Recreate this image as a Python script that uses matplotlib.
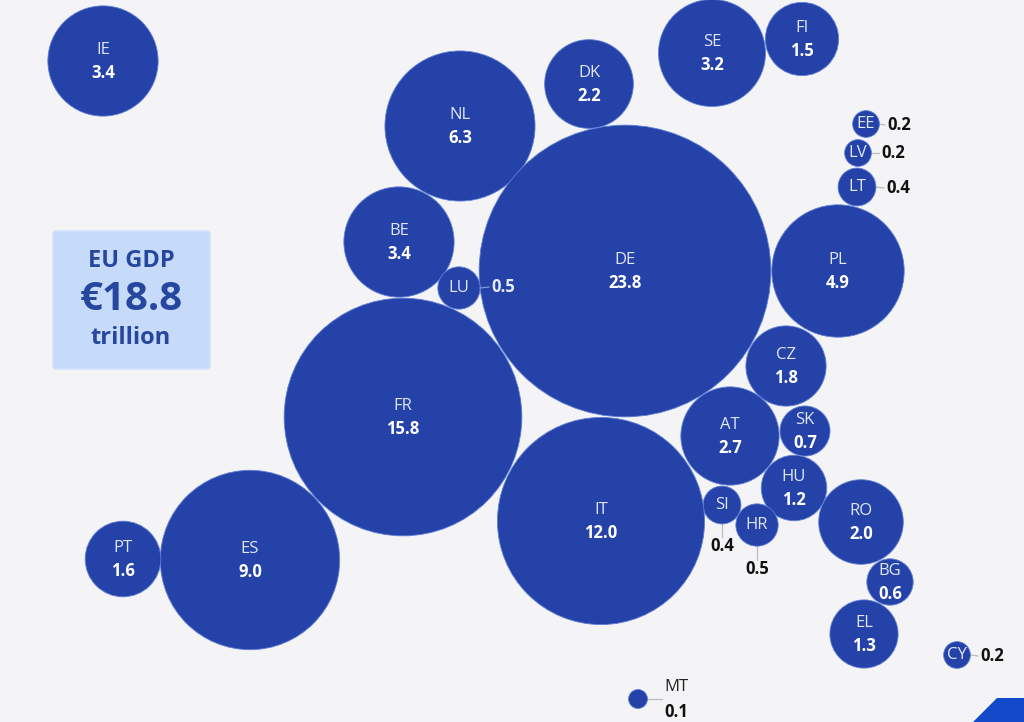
import numpy as np
import matplotlib
matplotlib.use("Agg")
import matplotlib.pyplot as plt
from matplotlib.patches import Circle, FancyBboxPatch, Polygon

codes = ["IE","NL","DK","SE","FI","EE","LV","LT","PL","DE","BE","LU","FR","CZ","AT","SK","HU","SI","HR","RO","BG","EL","CY","IT","ES","PT","MT"]
values = [3.4,6.3,2.2,3.2,1.5,0.2,0.2,0.4,4.9,23.8,3.4,0.5,15.8,1.8,2.7,0.7,1.2,0.4,0.5,2.0,0.6,1.3,0.2,12.0,9.0,1.6,0.1]
cx = [103,460,589,712,802,866,858,857,838,625,399,459,403,786,730,805,794,722,757,861,890,864,957,601,250,123,638]
cy = [61,126,84,53,39,124,153,187,271,271,242,288,417,366,436,431,488,505,525,522,582,634,655,521,560,559,699]

# small bubbles: label sits outside, joined by a short leader
outside_right = {"EE":(887,125),"LV":(881,153),"LT":(886,188),"LU":(491,287),"CY":(980,656)}
outside_below = {"SI":(722,546),"HR":(757,569)}
inside_small = {"MT"}

BG = "#f4f4f6"
BLUE = "#2542a8"
EDGE = "#5f7fd6"
BOX = "#c6dafa"
BOXTXT = "#27479f"
LIGHT = "#dfe6f7"
FONT = "Open Sans"
SCALE = 29.9
FS = 12

fig = plt.figure(figsize=(10.24, 7.22), dpi=100, facecolor=BG)
ax = fig.add_axes([0, 0, 1, 1])
ax.set_xlim(0, 1024)
ax.set_ylim(722, 0)
ax.axis("off")

for code, v, x, y in zip(codes, values, cx, cy):
    r = SCALE * np.sqrt(v)
    ax.add_patch(Circle((x, y), r, facecolor=BLUE, edgecolor=EDGE, linewidth=0.6,
                        zorder=3.5 if code == "LU" else 3))
    txt = f"{v:.1f}"
    if code in outside_right:
        lx, ly = outside_right[code]
        on_blue = code == "LU"
        ax.plot([x + r, lx - 2], [y, ly], color="#7f97dd" if on_blue else "#bcbcbc", lw=0.9, zorder=3.6 if on_blue else 2)
        ax.text(x, y, code, color=LIGHT, fontsize=FS, ha="center", va="center", family=FONT, zorder=4)
        ax.text(lx, ly, txt, color="#e6ebf8" if on_blue else "#111111", fontsize=FS, fontweight="bold", ha="left", va="center", family=FONT, zorder=4)
    elif code in outside_below:
        lx, ly = outside_below[code]
        ax.plot([x, lx], [y + r, ly - 9], color="#bcbcbc", lw=0.9, zorder=2)
        ax.text(x, y, code, color=LIGHT, fontsize=FS, ha="center", va="center", family=FONT, zorder=4)
        ax.text(lx, ly, txt, color="#111111", fontsize=FS, fontweight="bold", ha="center", va="center", family=FONT, zorder=4)
    elif code in inside_small:
        ax.text(x + 38, y - 12, code, color="#222222", fontsize=FS, ha="center", va="center", family=FONT, zorder=4)
        ax.text(x + 38, y + 13, txt, color="#111111", fontsize=FS, fontweight="bold", ha="center", va="center", family=FONT, zorder=4)
        ax.plot([x + r, x + 24], [y, y], color="#bcbcbc", lw=0.9, zorder=2)
    else:
        ax.text(x, y - 11, code, color=LIGHT, fontsize=FS, ha="center", va="center", family=FONT, zorder=4)
        ax.text(x, y + 12, txt, color="white", fontsize=FS, fontweight="bold", ha="center", va="center", family=FONT, zorder=4)

ax.add_patch(FancyBboxPatch((53, 231), 157, 138, boxstyle="round,pad=0,rounding_size=3",
                            facecolor=BOX, edgecolor="#d3e2fa", linewidth=1.2, zorder=1))
ax.text(131, 261, "EU GDP", color=BOXTXT, fontsize=17, fontweight="bold", ha="center", va="center", family=FONT)
ax.text(131, 300, "€18.8", color=BOXTXT, fontsize=29, fontweight="bold", ha="center", va="center", family=FONT)
ax.text(131, 338, "trillion", color=BOXTXT, fontsize=17, fontweight="bold", ha="center", va="center", family=FONT)

ax.add_patch(Polygon([(973, 722), (997, 698), (1024, 698), (1024, 722)], closed=True, facecolor="#1149c9", edgecolor="none"))

fig.savefig("out.png", dpi=100, facecolor=BG)
